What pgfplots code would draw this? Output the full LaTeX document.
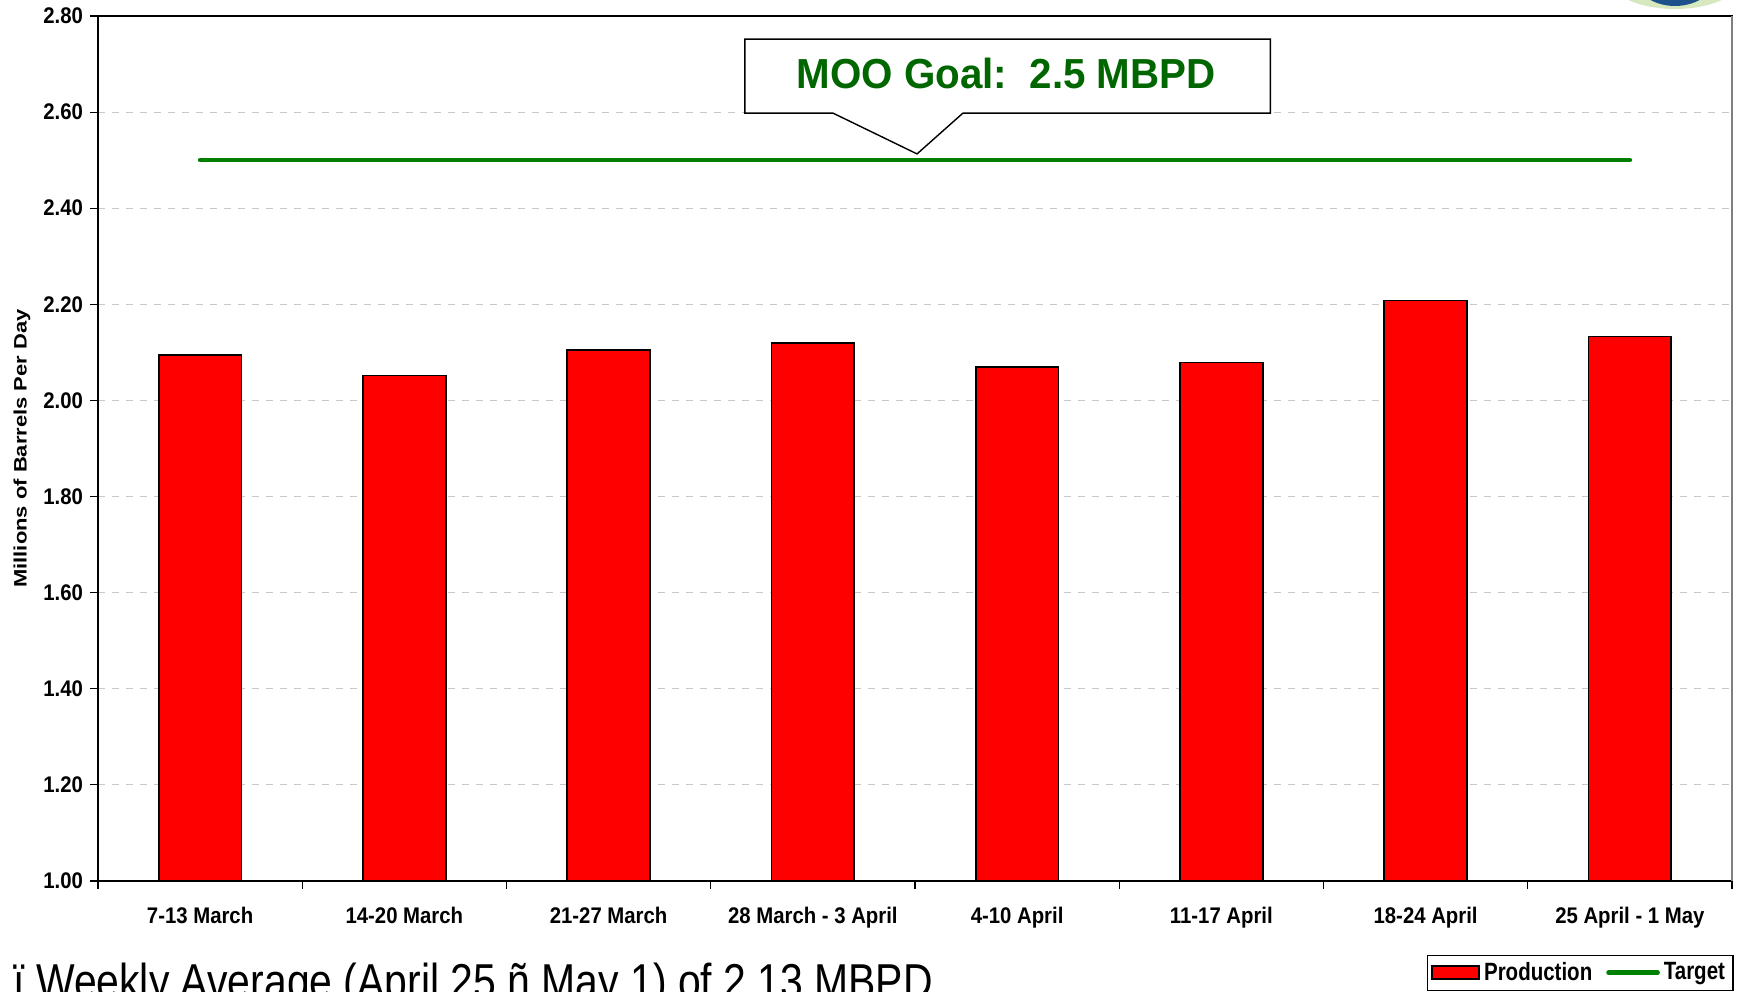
\documentclass[border=0pt]{standalone}
\usepackage{fontspec}
\setmainfont[FakeStretch=0.835]{Liberation Sans}
\newfontfamily\tickfont[FakeStretch=0.9]{Liberation Sans}
\newfontfamily\legfont[FakeStretch=0.82]{Liberation Sans}
\newfontfamily\ylabfont[FakeStretch=1.22]{Liberation Sans}
\newfontfamily\calloutfont[FakeStretch=0.96]{Liberation Sans}
\usepackage{pgfplots}
\pgfplotsset{compat=1.18}
\definecolor{barred}{RGB}{255,0,0}
\definecolor{tgreen}{RGB}{0,128,0}
\definecolor{txtgreen}{RGB}{0,102,0}
\definecolor{gridgray}{RGB}{200,200,200}
\definecolor{logoblue}{RGB}{30,80,140}
\definecolor{logohalo}{RGB}{215,232,190}

\pgfplotstableread{
x y
0 2.094
1 2.052
2 2.105
3 2.120
4 2.069
5 2.079
6 2.208
7 2.133
}\prodtable

\begin{document}
\begin{tikzpicture}
\path[use as bounding box] (0,0) rectangle (869.5bp,496bp);
\begin{scope}
\clip (0,0) rectangle (869.5bp,496bp);
% partial logo at top right
\fill[logohalo] (837.5bp,509bp) ellipse (35bp and 17.5bp);
\fill[logoblue] (837.5bp,509bp) ellipse (21bp and 16bp);

\begin{axis}[
  at={(49bp,55.5bp)}, anchor=south west,
  scale only axis, width=817bp, height=432.5bp,
  xmin=-0.5, xmax=7.5, ymin=1, ymax=2.8,
  axis line style={black, line width=0.9bp},
  ytick={1,1.2,...,2.81},
  yticklabel style={font=\tickfont\bfseries\fontsize{11.3bp}{13bp}\selectfont, /pgf/number format/fixed, /pgf/number format/fixed zerofill, /pgf/number format/precision=2, /pgf/number format/assume math mode=true},
  ymajorgrids,
  major grid style={gridgray, line width=0.6bp, dash pattern=on 3.5bp off 3.5bp},
  xtick={0,...,7},
  xticklabels={7-13 March,14-20 March,21-27 March,28 March - 3 April,4-10 April,11-17 April,18-24 April,25 April - 1 May},
  xticklabel style={font=\tickfont\bfseries\fontsize{11.3bp}{13bp}\selectfont, anchor=center, text height=8bp, text depth=0bp, yshift=-13bp},
  minor xtick={-0.5,0.5,...,7.6},
  tick align=outside,
  major tick length=4bp,
  minor tick length=4bp,
  x tick style={draw=none},
  minor x tick style={draw=black, line width=0.6bp},
  y tick style={black, line width=0.6bp},
  xtick pos=bottom, ytick pos=left,
  ylabel={\ylabfont\bfseries\fontsize{9bp}{11bp}\selectfont Millions of Barrels Per Day},
  ylabel style={at={(axis description cs:-0.0465,0.5)}, anchor=center, rotate=0},
  legend columns=2,
  legend style={at={(axis description cs:0.907,-0.106)}, anchor=center, draw=black, line width=0.6bp,
    font=\legfont\bfseries\fontsize{12.5bp}{14bp}\selectfont, inner xsep=2bp, inner ysep=1.5bp,
    /tikz/every even column/.append style={column sep=5bp}},
  clip=false,
]
\addplot[ybar, bar width=41.3bp, fill=barred, draw=black, line width=0.9bp,
  legend image code/.code={\draw[fill=barred, draw=black, line width=1bp] (0bp,-3.25bp) rectangle (23.5bp,3.25bp);}]
  table[x=x,y=y] {\prodtable};
\addlegendentry{Production}
\addplot[tgreen, line width=2.3bp, line cap=round,
  legend image code/.code={\draw[tgreen, line width=2.3bp, line cap=round] (0bp,0bp) -- (24.5bp,0bp);}]
  coordinates {(0,2.5) (7,2.5)};
\addlegendentry{Target}
% callout
\draw[fill=white, draw=black, line width=0.7bp]
  (axis cs:2.667,2.752) -- (axis cs:5.240,2.752) -- (axis cs:5.240,2.598) -- (axis cs:3.735,2.598)
  -- (axis cs:3.510,2.513) -- (axis cs:3.098,2.598) -- (axis cs:2.667,2.598) -- cycle;
\node[text=txtgreen, font=\calloutfont\bfseries\fontsize{21bp}{24bp}\selectfont] at (axis cs:3.946,2.681) {MOO Goal:\ \ 2.5 MBPD};
% right border in gray
\draw[gray, line width=1bp] (axis description cs:1,0) -- (axis description cs:1,1);
\end{axis}
\node[anchor=base west, inner sep=0pt, font=\fontsize{24.5bp}{28bp}\selectfont] at (6.5bp,-3bp) {ï Weekly Average (April 25 ñ May 1) of 2.13 MBPD};
\end{scope}
\end{tikzpicture}
\end{document}
